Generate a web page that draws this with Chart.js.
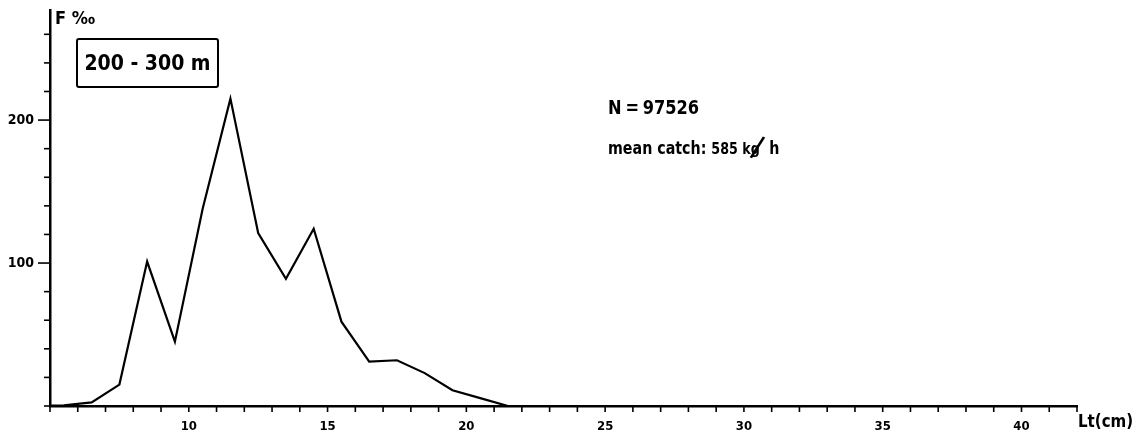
<!DOCTYPE html>
<html>
<head>
<meta charset="utf-8">
<script src="https://cdn.jsdelivr.net/npm/chart.js@4"></script>
<style>
  html, body { margin: 0; padding: 0; background: #fff; }
  #wrap { position: relative; width: 1147px; height: 439px; font-family: 'DejaVu Sans Condensed', 'DejaVu Sans', sans-serif; font-stretch: condensed; font-weight: bold; color: #000; }
  #chart { position: absolute; left: 0; top: 0; }
  .note { position: absolute; white-space: pre; line-height: 1; transform-origin: left top; }
  #yTitle { left: 55px; top: 9px; font-size: 18px; }
  #depthBox { left: 76px; top: 38px; width: 139px; height: 46px; border: 2px solid #000; border-radius: 3px; font-size: 21px; display: flex; align-items: center; justify-content: center; }
  #nTotal { left: 608px; top: 97px; font-size: 20px; word-spacing: -2px; transform: scaleX(0.9); }
  #catch { left: 608px; top: 129px; font-size: 18px; transform: scaleX(0.88); }
  #catch .small { font-size: 16px; }
  #catch .slash { display: inline-block; font-size: 30px; font-weight: bold; position: relative; top: 3px; margin: 0 8px 0 -7px; transform: rotate(20deg); }
  #xTitle { left: 1078px; top: 412px; font-size: 18px; transform: scaleX(0.93); }
</style>
</head>
<body>
<div id="wrap">
  <canvas id="chart" width="1147" height="439"></canvas>
  <div class="note" id="yTitle">F ‰</div>
  <div class="note" id="depthBox">200 - 300 m</div>
  <div class="note" id="nTotal">N = 97526</div>
  <div class="note" id="catch">mean catch: <span class="small">585 kg</span><span class="slash">/</span>h</div>
  <div class="note" id="xTitle">Lt(cm)</div>
</div>
<script>
// length classes (cm, mid points) and frequency per mille
const lengths = [4.5, 5.5, 6.5, 7.5, 8.5, 9.5, 10.5, 11.5, 12.5, 13.5, 14.5, 15.5, 16.5, 17.5, 18.5, 19.5, 20.5, 21.5];
const freq    = [0,   0.5, 2.5, 15,  101, 45,  138,  215,  121,  89,   124,  59,   31,   32,   23,   11,   5.5,  0];
const yLabels = [100, 200];
const xLabelStep = 5;

const fontFamily = "'DejaVu Sans Condensed', 'DejaVu Sans', sans-serif";

// small tick marks on both axes, labelled y ticks longer
const tickMarks = {
    id: 'tickMarks',
    afterDraw(chart) {
        const { ctx, scales: { x, y } } = chart;
        ctx.save();
        ctx.strokeStyle = '#000';
        ctx.lineWidth = 1.6;
        y.ticks.forEach(t => {
            const py = y.getPixelForValue(t.value);
            const len = yLabels.includes(t.value) ? 12 : 6;
            ctx.beginPath();
            ctx.moveTo(y.right - len, py);
            ctx.lineTo(y.right, py);
            ctx.stroke();
        });
        x.ticks.forEach(t => {
            const px = x.getPixelForValue(t.value);
            ctx.beginPath();
            ctx.moveTo(px, x.top);
            ctx.lineTo(px, x.top + 6);
            ctx.stroke();
        });
        ctx.restore();
    }
};

new Chart(document.getElementById('chart'), {
    type: 'line',
    data: {
        datasets: [{
            data: lengths.map((l, i) => ({ x: l, y: freq[i] })),
            borderColor: '#000',
            borderWidth: 2.2,
            pointRadius: 0,
            tension: 0,
            fill: false
        }]
    },
    options: {
        responsive: false,
        animation: false,
        layout: { padding: { left: 0, right: 70, top: 10, bottom: 0 } },
        plugins: { legend: { display: false }, tooltip: { enabled: false } },
        scales: {
            x: {
                type: 'linear',
                min: 5,
                max: 42,
                afterFit: s => { s.height = 33; s.paddingLeft = 0; s.paddingRight = 0; },
                border: { display: true, color: '#000', width: 2.5 },
                grid: { display: false, drawTicks: false },
                ticks: {
                    stepSize: 1,
                    autoSkip: false,
                    maxRotation: 0,
                    padding: 13,
                    color: '#000',
                    font: { family: fontFamily, size: 13, weight: 'bold' },
                    callback: v => (v % xLabelStep === 0 && v >= 10 ? String(v) : '')
                }
            },
            y: {
                min: 0,
                max: 277,
                afterFit: s => { s.width = 50; s.paddingTop = 0; s.paddingBottom = 0; },
                border: { display: true, color: '#000', width: 2.5 },
                grid: { display: false, drawTicks: false },
                ticks: {
                    stepSize: 20,
                    includeBounds: false,
                    autoSkip: false,
                    padding: 16,
                    color: '#000',
                    font: { family: fontFamily, size: 14, weight: 'bold' },
                    callback: v => (yLabels.includes(v) ? String(v) : '')
                }
            }
        }
    },
    plugins: [tickMarks]
});
</script>
</body>
</html>
